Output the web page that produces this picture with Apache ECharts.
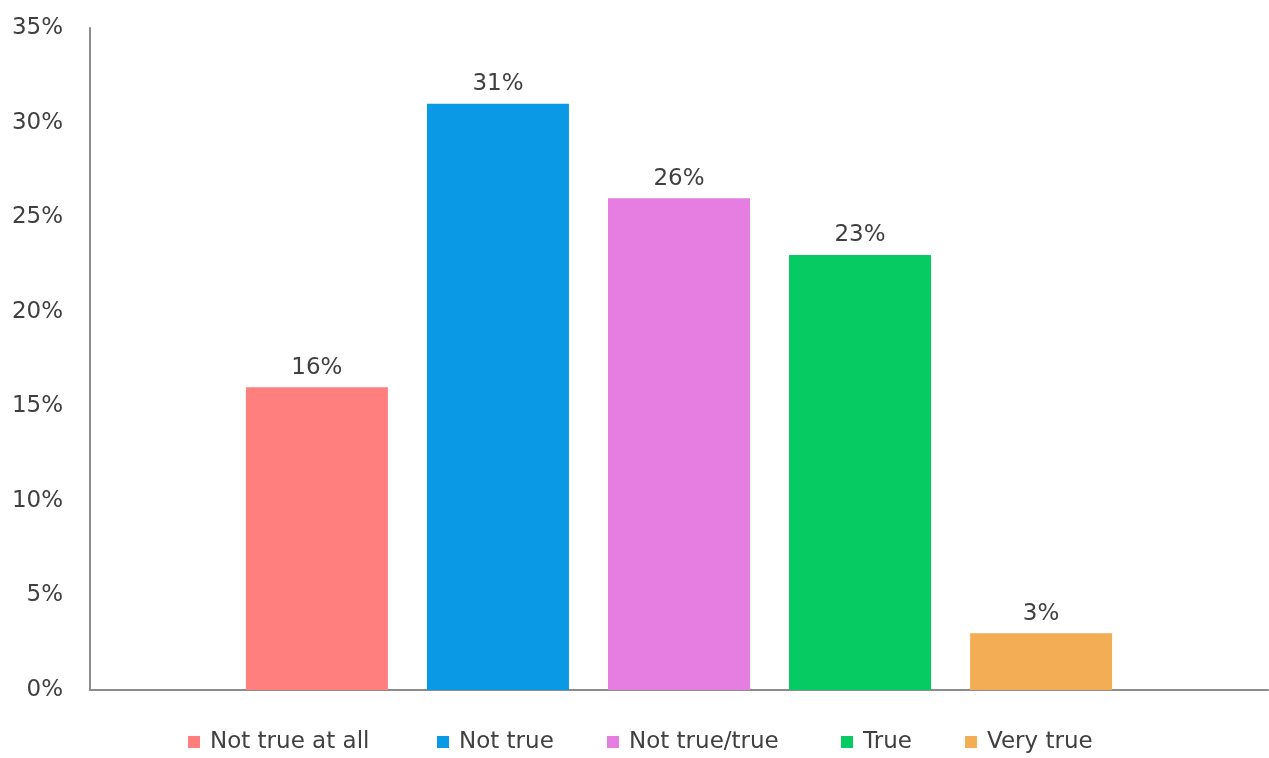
<!DOCTYPE html>
<html>
<head>
<meta charset="utf-8">
<script src="https://cdn.jsdelivr.net/npm/echarts@6/dist/echarts.min.js"></script>
<style>
  html, body { margin: 0; padding: 0; background: #ffffff; }
  #chart { width: 1269px; height: 758px; }
</style>
</head>
<body>
<div id="chart"></div>
<script>
// Answer categories, one bar series each
const seriesNames = ['Not true at all', 'Not true', 'Not true/true', 'True', 'Very true'];
const seriesValues = [16, 31, 26, 23, 3];
const seriesColors = ['#FF7F7E', '#0A99E4', '#E67DE0', '#06CB62', '#F3AD55'];
const categories = [''];
const yTicks = { min: 0, max: 35, interval: 5 };

// Width reserved for each legend entry's text
const legendTextWidths = [187, 108, 172, 62, 123];

const fontFamily = '"DejaVu Sans", Lato, sans-serif';
const textColor = '#404040';
const fontSize = 23;

const chart = echarts.init(document.getElementById('chart'), null, { renderer: 'canvas' });

const series = seriesNames.map((name, i) => ({
  name: name,
  type: 'bar',
  data: [seriesValues[i]],
  barWidth: 142,
  barGap: '27.5%',
  itemStyle: { color: seriesColors[i] },
  label: {
    show: true,
    position: 'top',
    distance: 8,
    formatter: p => p.value + '%',
    color: textColor,
    fontFamily: fontFamily,
    fontSize: fontSize
  }
}));

chart.setOption({
  backgroundColor: '#ffffff',
  animation: false,
  grid: { left: 90, right: 1, top: 28, bottom: 68, containLabel: false },
  legend: {
    top: 730,
    left: 188,
    padding: 0,
    itemWidth: 12,
    itemHeight: 12,
    itemGap: 40,
    icon: 'rect',
    textStyle: {
      color: textColor,
      fontFamily: fontFamily,
      fontSize: fontSize,
      lineHeight: 24,
      padding: [0, 0, 0, 5]
    },
    data: seriesNames.map((name, i) => ({
      name: name,
      textStyle: { width: legendTextWidths[i] }
    }))
  },
  xAxis: {
    type: 'category',
    data: categories,
    axisLine: { show: true, lineStyle: { color: '#8c8c8c', width: 2 } },
    axisTick: { show: false },
    axisLabel: { show: false },
    splitLine: { show: false }
  },
  yAxis: {
    type: 'value',
    min: yTicks.min,
    max: yTicks.max,
    interval: yTicks.interval,
    axisLine: { show: true, lineStyle: { color: '#8c8c8c', width: 2 } },
    axisTick: { show: false },
    splitLine: { show: false },
    axisLabel: {
      formatter: v => v + '%',
      color: textColor,
      fontFamily: fontFamily,
      fontSize: fontSize,
      margin: 27
    }
  },
  series: series
});
</script>
</body>
</html>
